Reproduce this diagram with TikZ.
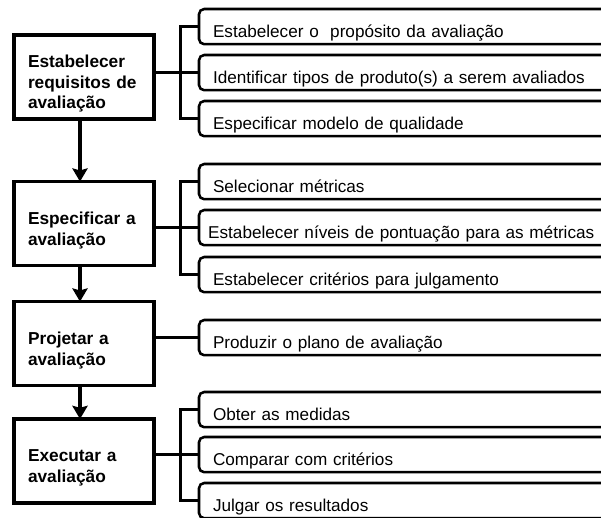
\documentclass[tikz,border=0pt]{standalone}
\usepackage{fontspec}
\setmainfont{Liberation Sans}
\usetikzlibrary{arrows.meta,positioning}
\tikzset{
    %Define standard arrow tip
    >={Stealth[length=0.33cm,width=0.38cm,inset=0.05cm]},
    %Define style for the phase boxes
    phase/.style={
    rectangle,
    draw=black, line width=2.6pt,
    outer sep=0pt,
    minimum width=3.5cm,
    minimum height=2.1cm,
    text width=2.8cm,
    inner xsep=0.35cm,
    text height=0.65cm,
    align=left,
    font=\fontsize{12.3}{14.6}\selectfont\bfseries
    },
    %Define style for the activity boxes
    task/.style={
    rectangle,
    rounded corners=0.13cm,
    draw=black, line width=1.8pt,
    outer sep=0pt,
    text width=10.5cm,
    inner xsep=0.35cm, inner ysep=0pt,
    text height=0.72cm, text depth=0.16cm,
    align=left,
    font=\fontsize{12.2}{15}\selectfont
    },
    % Define line styles
    flow/.style={
    ->,
    line width=2.2pt},
    link/.style={
    line width=2pt}
}

\begin{document}
\begin{tikzpicture}[node distance=0.27cm]
		\useasboundingbox (0,0) rectangle (15.025,-12.95);
		\clip (0,0) rectangle (15.025,-12.95);
		% phases
		\node[phase, anchor=north west] (req) at (0.35,-0.875) {Estabelecer\\requisitos de\\avaliação};
		\node[phase, below=1.565cm of req] (spec) {Especificar a\\avaliação};
		\node[phase, below=0.9cm of spec] (proj) {Projetar a\\avaliação};
		\node[phase, below=0.835cm of proj] (exec) {Executar a\\avaliação};
		% activities
		\node[task, anchor=north west] (r1) at (4.975,-0.225) {Estabelecer o\ \ propósito da avaliação};
		\node[task, below=of r1] (r2) {Identificar tipos de produto(s) a serem avaliados};
		\node[task, below=of r2] (r3) {Especificar modelo de qualidade};
		\node[task, below=0.695cm of r3] (r4) {Selecionar métricas};
		\node[task, below=of r4] (r5) {\hspace*{-0.12cm}Estabelecer níveis de pontuação para as métricas};
		\node[task, below=0.295cm of r5] (r6) {Estabelecer critérios para julgamento};
		\node[task, below=0.695cm of r6] (r7) {Produzir o plano de avaliação};
		\node[task, below=0.92cm of r7] (r8) {Obter as medidas};
		\node[task, below=0.245cm of r8] (r9) {Comparar com critérios};
		\node[task, below=of r9] (r10) {Julgar os resultados};
		% sequence
		\draw[flow] ([xshift=-0.1cm]req.south) -- ([xshift=-0.1cm]spec.north);
		\draw[flow] ([xshift=-0.1cm]spec.south) -- ([xshift=-0.1cm]proj.north);
		\draw[flow] ([xshift=-0.1cm]proj.south) -- ([xshift=-0.1cm]exec.north);
		% brackets
		\draw[link] (req.east |- r2.west) -- (r2.west);
		\draw[link] (r1.west) -- ++(-0.46cm,0) |- (r3.west);
		\draw[link] (spec.east |- r5.west) -- (r5.west);
		\draw[link] (r4.west) -- ++(-0.46cm,0) |- (r6.west);
		\draw[link] (proj.east |- r7.west) -- (r7.west);
		\draw[link] (exec.east |- r9.west) -- (r9.west);
		\draw[link] (r8.west) -- ++(-0.46cm,0) |- (r10.west);
\end{tikzpicture}
\end{document}
